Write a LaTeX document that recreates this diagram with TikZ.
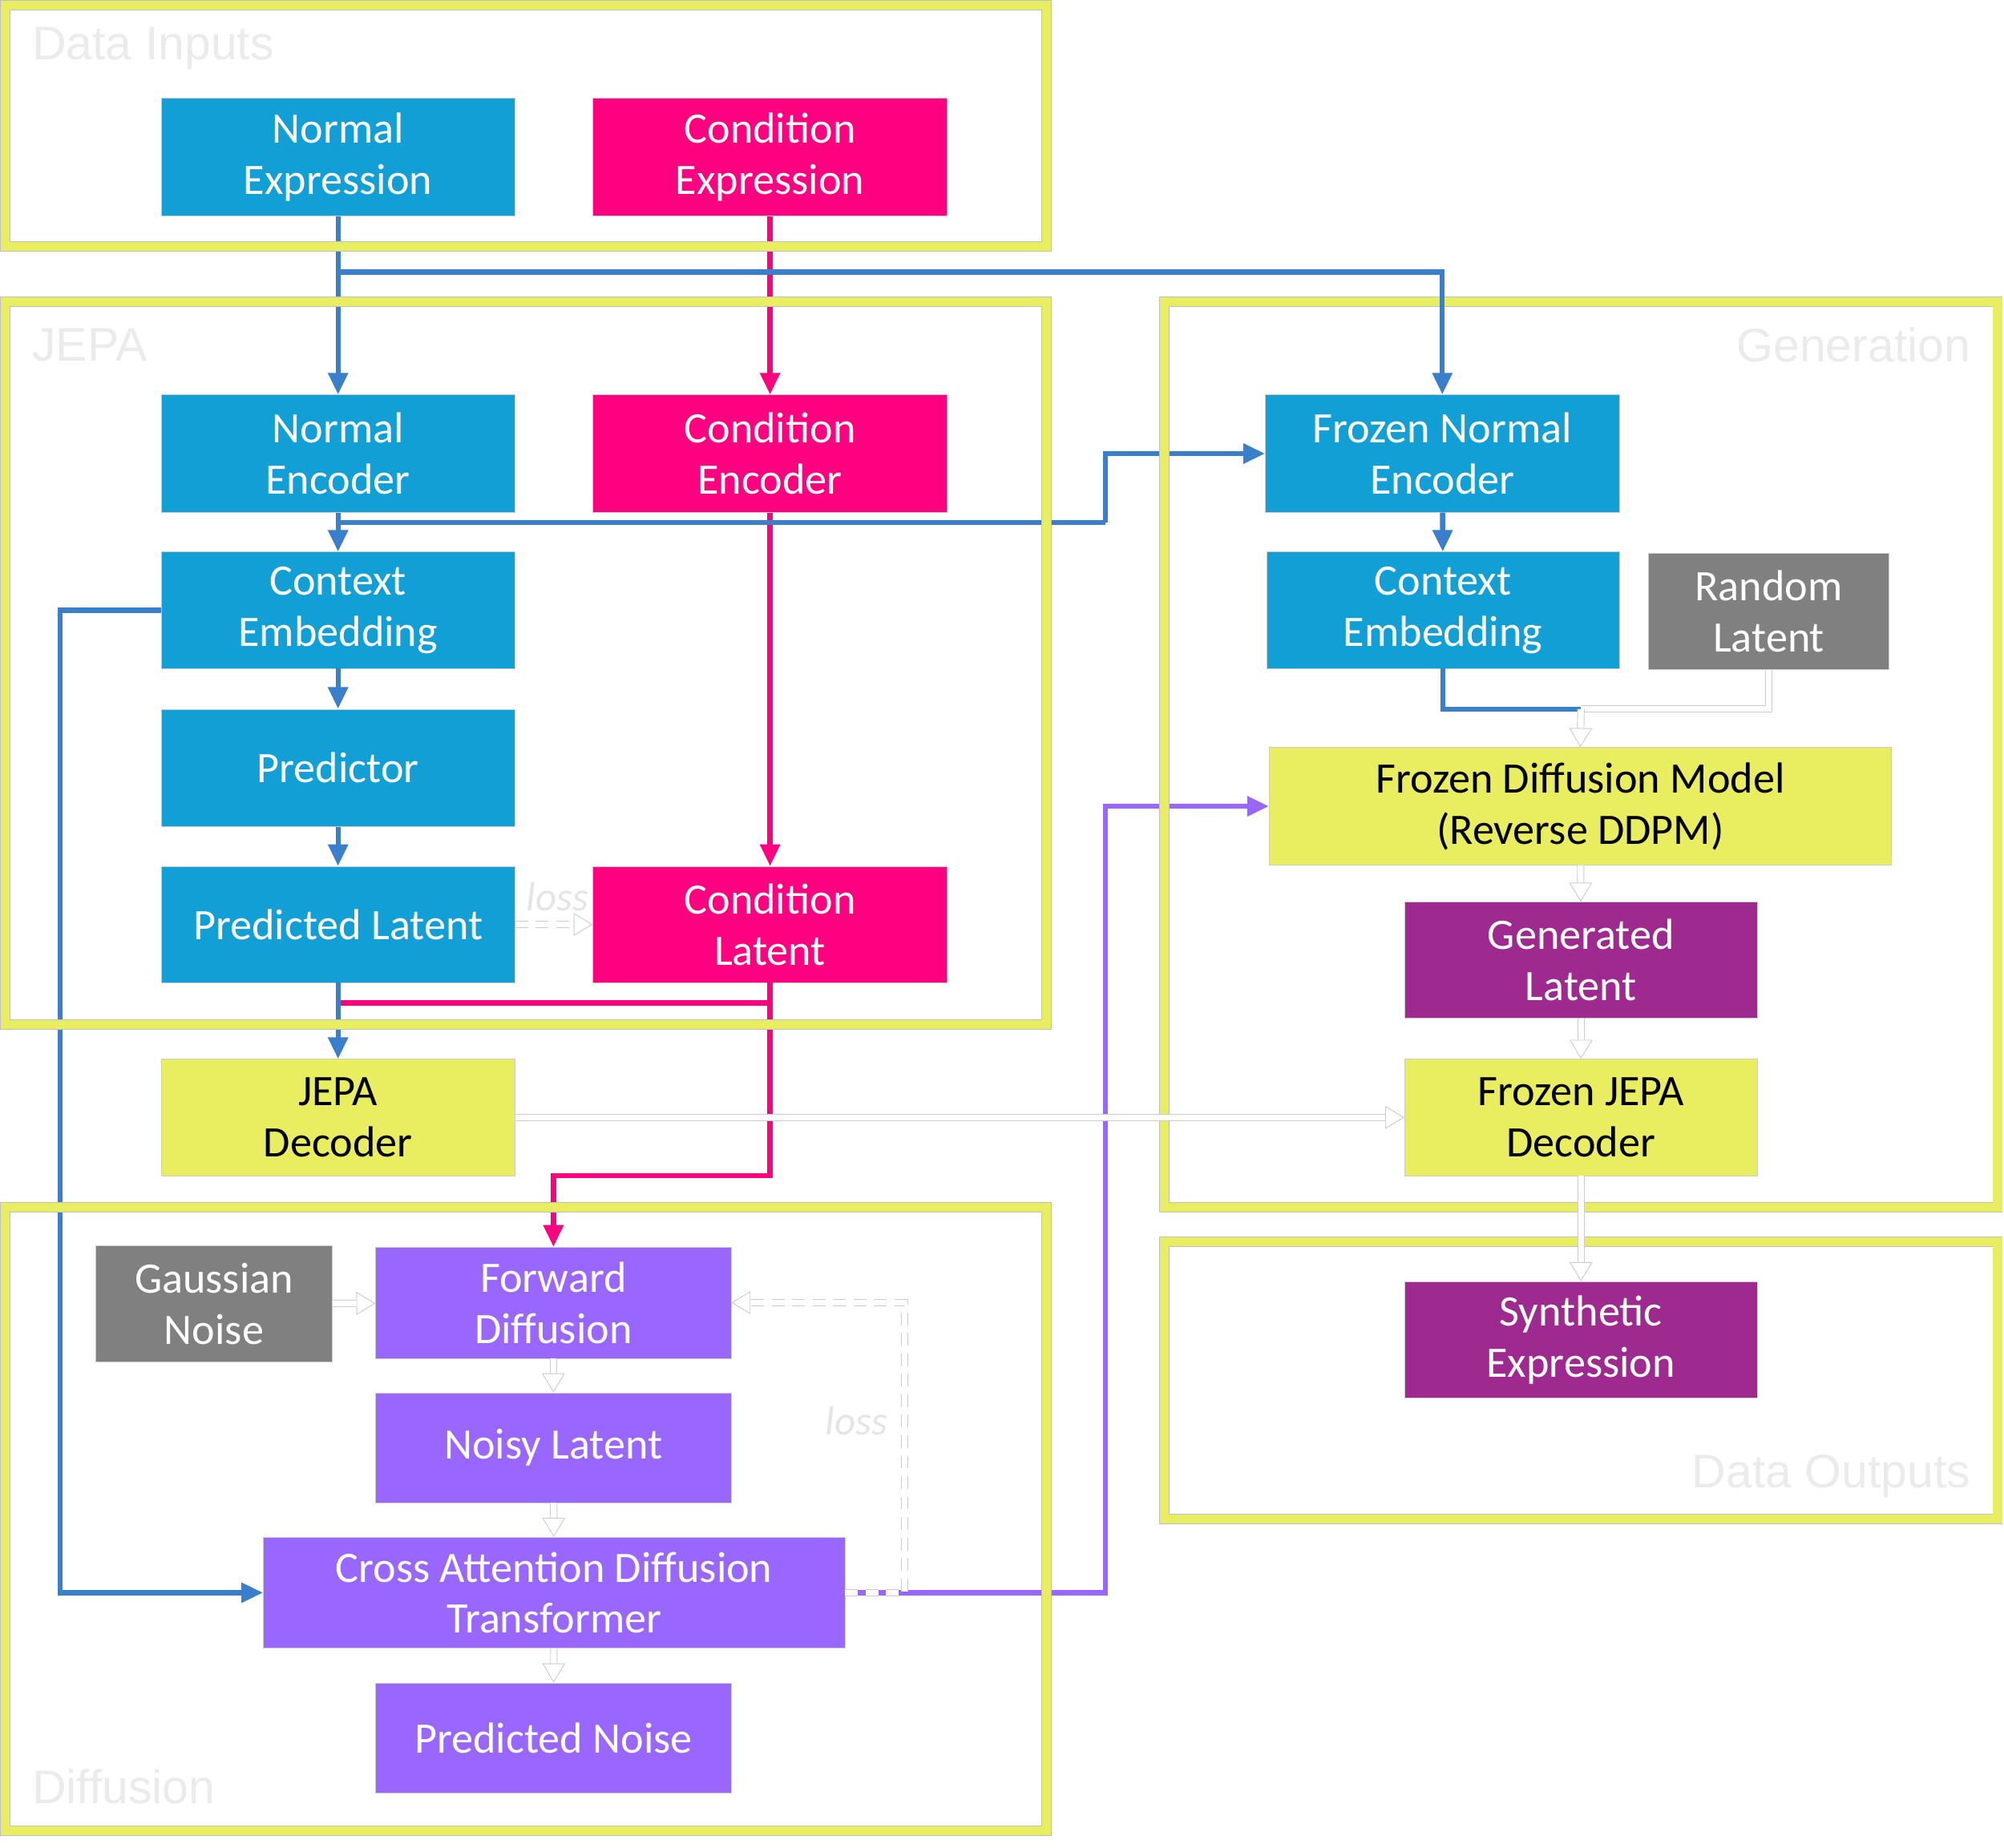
\documentclass[tikz,border=0pt]{standalone}
\usepackage{fontspec}
\setmainfont{Carlito}
\newfontfamily\labfont{Liberation Sans}
\usetikzlibrary{arrows.meta}
\definecolor{cbox}{RGB}{17,159,214}
\definecolor{cpink}{RGB}{255,0,128}
\definecolor{cyel}{RGB}{233,237,96}
\definecolor{cgray}{RGB}{128,128,128}
\definecolor{cpurp}{RGB}{159,42,143}
\definecolor{clav}{RGB}{153,102,255}
\definecolor{cline}{RGB}{58,127,204}
\begin{document}
\begin{tikzpicture}[x=1pt,y=-1pt,
  box/.style={minimum width=277pt, minimum height=92pt, inner sep=0pt, align=center,
    draw=black!20, line width=0.4pt, text=white, font=\fontsize{34}{40}\selectfont},
  bluebox/.style={box, fill=cbox},
  pinkbox/.style={box, fill=cpink},
  yelbox/.style={box, fill=cyel, text=black},
  graybox/.style={box, fill=cgray, minimum width=186pt},
  purpbox/.style={box, fill=cpurp, minimum width=276pt, minimum height=91pt},
  lavbox/.style={box, fill=clav, minimum height=87pt, minimum width=278pt},
  frame/.style={draw=black!25, line width=0.5pt, double=cyel, double distance=7pt},
  flabel/.style={font=\labfont\fontsize{37}{42}\selectfont, text=black!8, inner sep=0pt},
  losslab/.style={font=\itshape\fontsize{32}{38}\selectfont, text=black!10, inner sep=0pt},
  barr/.style={draw=cline, line width=4pt, -{Triangle[length=17pt,width=15pt]}},
  bline/.style={draw=cline, line width=4pt},
  parr/.style={draw=cpink, line width=4pt, -{Triangle[length=17pt,width=15pt]}},
  pline/.style={draw=cpink, line width=4pt},
  uarr/.style={draw=clav, line width=4pt, -{Triangle[length=17pt,width=15pt]}},
  warr/.style={draw=black!20, line width=0.6pt, double=white, double distance=4.5pt,
    -{Triangle[open, fill=white, length=15pt, width=18pt, line width=0.6pt]}},
  wline/.style={draw=black!20, line width=0.6pt, double=white, double distance=4.5pt},
  wdash/.style={warr, dash pattern=on 10pt off 6pt}
]
\useasboundingbox[fill=white] (0,0) rectangle (1568,1446);

% nodes
\node[bluebox] (ne) at (264.5,123) {Normal\\Expression};
\node[pinkbox] (ce) at (602.5,123) {Condition\\Expression};
\node[bluebox] (nenc) at (264.5,355) {Normal\\Encoder};
\node[pinkbox] (cenc) at (602.5,355) {Condition\\Encoder};
\node[bluebox, minimum height=91pt] (ctx) at (264.5,477.5) {Context\\Embedding};
\node[bluebox] (pred) at (264.5,601) {Predictor};
\node[bluebox, minimum height=91pt] (plat) at (264.5,723.5) {Predicted Latent};
\node[pinkbox, minimum height=91pt] (clat) at (602.5,723.5) {Condition\\Latent};
\node[yelbox, minimum height=91pt] (jdec) at (264.5,874.5) {JEPA\\Decoder};

\node[bluebox] (fne) at (1128.5,355) {Frozen Normal\\Encoder};
\node[bluebox, minimum width=276pt, minimum height=91pt] (gctx) at (1129,477.5) {Context\\Embedding};
\node[graybox, minimum width=188pt, minimum height=91pt] (rl) at (1384,478.5) {Random\\Latent};
\node[yelbox, minimum width=487pt] (fdm) at (1236.5,631) {Frozen Diffusion Model\\(Reverse DDPM)};
\node[purpbox] (gl) at (1237,751.5) {Generated\\Latent};
\node[yelbox, minimum width=276pt, minimum height=91pt] (fjd) at (1237,874.5) {Frozen JEPA\\Decoder};
\node[purpbox] (se) at (1237,1048.5) {Synthetic\\Expression};

\node[graybox, minimum width=185pt, minimum height=91pt] (gn) at (167.5,1020.5) {Gaussian\\Noise};
\node[lavbox] (fd) at (433,1019.5) {Forward\\Diffusion};
\node[lavbox, minimum height=86pt] (nl) at (433,1133) {Noisy Latent};
\node[lavbox, minimum width=455pt] (cadt) at (433.5,1246.5) {Cross Attention Diffusion\\Transformer};
\node[lavbox, minimum height=86pt] (pn) at (433,1360) {Predicted Noise};

% coordinates
\coordinate (b1) at (264.5,213);
\coordinate (c1) at (264.5,409);
\coordinate (c2) at (865,409);
\coordinate (d1) at (47,477.5);
\coordinate (p1) at (266,785);
\coordinate (p2) at (602.5,920);
\coordinate (u1) at (865,1246.5);
\coordinate (l1) at (708,1246.5);
\coordinate (l2) at (708,1019.5);
\coordinate (g1) at (1237,555);

% coloured connectors
\draw[barr] (ne) -- (nenc);
\draw[parr] (ce) -- (cenc);
\draw[parr] (cenc) -- (clat);
\draw[bline] (c1) -- (c2);
\draw[barr] (c2) |- (fne.west);
\draw[barr] (nenc) -- (ctx);
\draw[barr] (ctx.west) -- (d1) |- (cadt.west);
\draw[barr] (ctx) -- (pred);
\draw[barr] (pred) -- (plat);
\draw[pline] (clat.south) |- (p1);
\draw[parr] (clat.south) -- (p2) -| (fd.north);
\draw[barr] (plat) -- (jdec);
\draw[uarr] (cadt.east) -- (u1) |- (fdm.west);
\draw[barr] (fne) -- (gctx);
\draw[bline] (gctx.south) |- (g1);

% frames
\draw[frame] (4,4) rectangle (819,193);
\draw[frame] (4,236) rectangle (819,802);
\draw[frame] (911,236) rectangle (1563,945);
\draw[frame] (911,972) rectangle (1563,1189);
\draw[frame] (4,945) rectangle (819,1433);

\node[flabel, anchor=west] (lab1) at (25,38) {Data Inputs};
\node[flabel, anchor=west] (lab2) at (25,270) {JEPA};
\node[flabel, anchor=east] (lab3) at (1542,270) {Generation};
\node[flabel, anchor=east] (lab4) at (1542,1155) {Data Outputs};
\node[flabel, anchor=west] (lab5) at (25,1398) {Diffusion};

% branch over frame
\draw[barr] (b1) -| (fne.north);

% white connectors
\draw[wdash] (plat) -- (clat);
\node[losslab] (loss1) at (436,702) {loss};
\draw[wdash] (cadt.east) -- (l1) -- (l2) -- (fd.east);
\node[losslab] (loss2) at (670,1112) {loss};
\draw[warr] (gn) -- (fd);
\draw[warr] (fd) -- (nl);
\draw[warr] (nl) -- (cadt);
\draw[warr] (cadt) -- (pn);
\draw[warr] (jdec) -- (fjd);
\draw[wline] (rl.south) |- (g1);
\draw[warr] (g1) -- (fdm.north);
\draw[warr] (fdm) -- (gl);
\draw[warr] (gl) -- (fjd);
\draw[warr] (fjd) -- (se);
\end{tikzpicture}
\end{document}
